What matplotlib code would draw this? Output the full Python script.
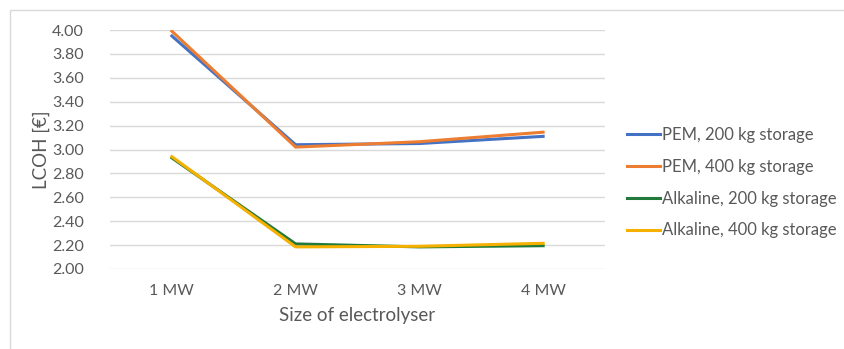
import matplotlib
matplotlib.use("Agg")
import matplotlib.pyplot as plt
from matplotlib.patches import Rectangle

sizes = ["1 MW", "2 MW", "3 MW", "4 MW"]
pem_200 = [3.95, 3.04, 3.05, 3.11]
pem_400 = [3.99, 3.02, 3.065, 3.145]
alk_200 = [2.93, 2.21, 2.185, 2.195]
alk_400 = [2.94, 2.185, 2.19, 2.215]

series = [
    ("PEM, 200 kg storage", pem_200, "#4472C4"),
    ("PEM, 400 kg storage", pem_400, "#ED7D31"),
    ("Alkaline, 200 kg storage", alk_200, "#217A3A"),
    ("Alkaline, 400 kg storage", alk_400, "#F5B000"),
]

plt.rcParams['font.family'] = ['Lato', 'DejaVu Sans']
txt = "#595959"
grid = "#D9D9D9"

fig = plt.figure(figsize=(8.45, 3.49), dpi=100)
ax = fig.add_axes([110/845, 1 - 269/349, (605 - 110)/845, (269 - 30)/349])

x = list(range(len(sizes)))
for label, vals, col in series:
    ax.plot(x, vals, color=col, lw=2.2, label=label)

ax.set_xlim(-0.5, len(sizes) - 0.5)
ax.set_ylim(2.0, 4.0)
ax.set_yticks([2.0 + 0.2*i for i in range(11)])
ax.set_yticklabels([f"{2.0 + 0.2*i:.2f}" for i in range(11)])
ax.set_xticks(x)
ax.set_xticklabels(sizes)
ax.yaxis.grid(True, color=grid, lw=1)
ax.set_axisbelow(True)
for s in ax.spines.values():
    s.set_visible(False)
ax.tick_params(length=0, colors=txt, labelsize=11.5)
ax.tick_params(axis="y", pad=19)
ax.tick_params(axis="x", pad=11)

ax.set_xlabel("Size of electrolyser", color=txt, fontsize=13.5, labelpad=6)
ax.set_ylabel("LCOH [€]", color=txt, fontsize=13.5, labelpad=1)

leg = fig.legend(loc="upper left", bbox_to_anchor=(627/845, 1 - 127/349),
                 frameon=False, fontsize=12, handlelength=2.0,
                 handletextpad=0.1, labelspacing=0.95, borderpad=0,
                 borderaxespad=0)
for t in leg.get_texts():
    t.set_color(txt)

# chart area border
fig.patches.append(Rectangle((10/845, -0.1), 1.0, 1.1 - 10/349,
                             transform=fig.transFigure, fill=False,
                             edgecolor=grid, lw=1))

fig.savefig("out.png", dpi=100)
